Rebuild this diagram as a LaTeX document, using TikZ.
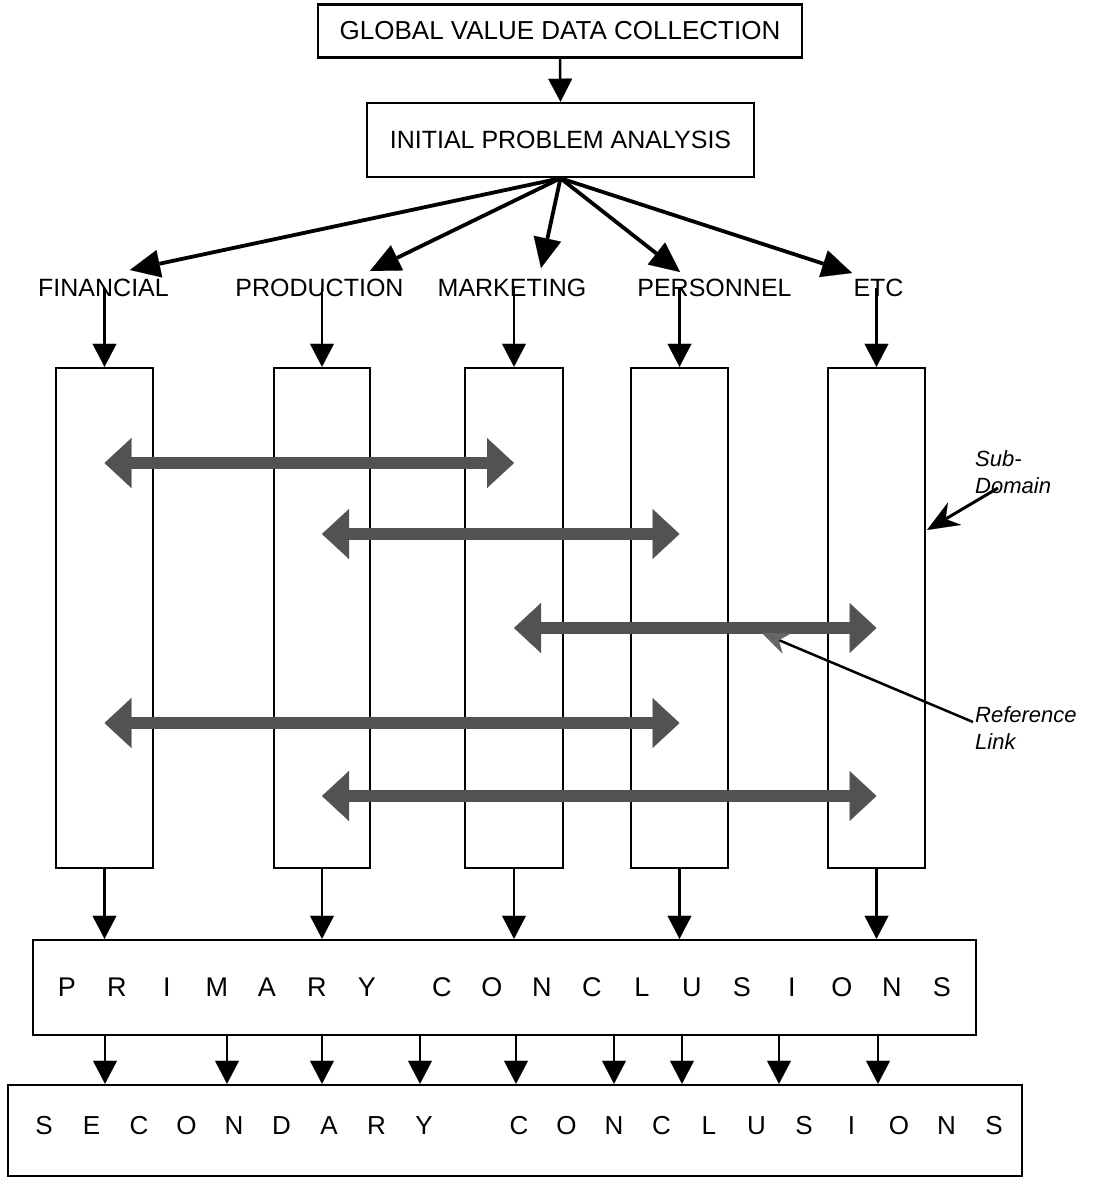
\documentclass[tikz,border=0pt]{standalone}
\usepackage{fontspec}
\setmainfont{Liberation Sans}
\usetikzlibrary{arrows.meta}
\newcommand\priml[1]{\makebox[50pt]{#1}}
\newcommand\secl[1]{\makebox[47.5pt]{#1}}
\begin{document}
\begin{tikzpicture}[x=1pt,y=-1pt,
  box/.style={draw, line width=2.5pt, inner sep=0pt},
  lbl/.style={font=\fontsize{25}{30}\selectfont, inner sep=0pt},
  arr/.style={line width=2.5pt, -{Triangle[width=24pt,length=23pt,line width=0.1pt]}},
  fan/.style={line width=3.8pt, -{Triangle[width=28pt,length=30pt,line width=0.1pt]}},
  dbl/.style={line width=12pt, draw=black!68,
    {Triangle[width=50pt,length=27pt,line width=0.1pt]}-{Triangle[width=50pt,length=27pt,line width=0.1pt]}},
  note/.style={font=\itshape\fontsize{22}{27}\selectfont, align=left, inner sep=0pt},
]
\path[use as bounding box] (0,0) rectangle (1094,1179);

% top boxes
\node[box, minimum width=484pt, minimum height=53pt, font=\fontsize{26}{30}\selectfont] (gv) at (560,31) {GLOBAL VALUE DATA COLLECTION};
\node[box, minimum width=387pt, minimum height=74pt, font=\fontsize{25}{30}\selectfont] (ipa) at (560.5,140) {INITIAL PROBLEM ANALYSIS};
\draw[arr] (gv.south) -- (ipa.north);

% domain labels
\node[lbl] (fin) at (103.5,288) {FINANCIAL};
\node[lbl] (prod) at (319.5,288) {PRODUCTION};
\node[lbl] (mkt) at (512,288) {MARKETING};
\node[lbl] (pers) at (714.5,288) {PERSONNEL};
\node[lbl] (etc) at (878.5,288) {ETC};

% fan arrows
\coordinate (tfin) at (130,270);
\coordinate (tprod) at (370,271);
\coordinate (tmkt) at (541,268);
\coordinate (tpers) at (680,272);
\coordinate (tetc) at (852,273);
\foreach \t in {tfin,tprod,tmkt,tpers,tetc} \draw[fan] (ipa.south) -- (\t);

% tall sub-domain boxes
\foreach \n/\x/\w in {b1/104.5/97, b2/322/96, b3/514/98, b4/679.5/97, b5/876.5/97}
  \node[box, minimum width=\w pt, minimum height=500pt] (\n) at (\x,618) {};

\draw[arr] (b1.north |- fin.center) -- (b1.north);
\draw[arr] (b2.north |- prod.center) -- (b2.north);
\draw[arr] (b3.north |- mkt.center) -- (b3.north);
\draw[arr] (b4.north |- pers.center) -- (b4.north);
\draw[arr] (b5.north |- etc.center) -- (b5.north);

% double arrows (reference links)
\coordinate (y1) at (0,463);
\coordinate (y2) at (0,534);
\coordinate (y3) at (0,628);
\coordinate (y4) at (0,723);
\coordinate (y5) at (0,796);
\draw[dbl] (b1 |- y1) -- (b3 |- y1);
\draw[dbl] (b2 |- y2) -- (b4 |- y2);
\draw[dbl] (b3 |- y3) -- (b5 |- y3);
\draw[dbl] (b1 |- y4) -- (b4 |- y4);
\draw[dbl] (b2 |- y5) -- (b5 |- y5);

% annotations
\node[note, anchor=west] (sd) at (975,472) {Sub-\\Domain};
\coordinate (sdtail) at (998,488);
\coordinate (sdtip) at (927,530);
\draw[line width=3pt, -{Stealth[length=32pt,width=26pt,line width=0.1pt]}] (sdtail) -- (sdtip);

\node[note, anchor=north west] (rl) at (975,706) {Reference\\Link};
\coordinate (rltail) at (973,722);
\coordinate (rltip) at (762,633);
\draw[line width=2.5pt, -{Stealth[length=27pt,width=22pt,line width=0.1pt,color=black!60]}] (rltail) -- (rltip);

% conclusions
\node[box, minimum width=943pt, minimum height=95pt, font=\fontsize{27}{30}\selectfont] (prim) at (504.5,987.5)
  {\priml{P}\priml{R}\priml{I}\priml{M}\priml{A}\priml{R}\priml{Y}\hspace{25pt}\priml{C}\priml{O}\priml{N}\priml{C}\priml{L}\priml{U}\priml{S}\priml{I}\priml{O}\priml{N}\priml{S}};
\node[box, minimum width=1014pt, minimum height=91pt] (sec) at (515,1130.5) {};
\node[font=\fontsize{26}{30}\selectfont, inner sep=0pt] (sectext) at (519,1126)
  {\secl{S}\secl{E}\secl{C}\secl{O}\secl{N}\secl{D}\secl{A}\secl{R}\secl{Y}\hspace{47.5pt}\secl{C}\secl{O}\secl{N}\secl{C}\secl{L}\secl{U}\secl{S}\secl{I}\secl{O}\secl{N}\secl{S}};

\foreach \n in {b1,b2,b3,b4,b5} \draw[arr] (\n.south) -- (\n.south |- prim.north);

\foreach \x in {105,227,322,420,516,614,682,779,878} {
  \coordinate (c\x) at (\x,0);
  \draw[arr] (prim.south -| c\x) -- (sec.north -| c\x);
}
\end{tikzpicture}
\end{document}
